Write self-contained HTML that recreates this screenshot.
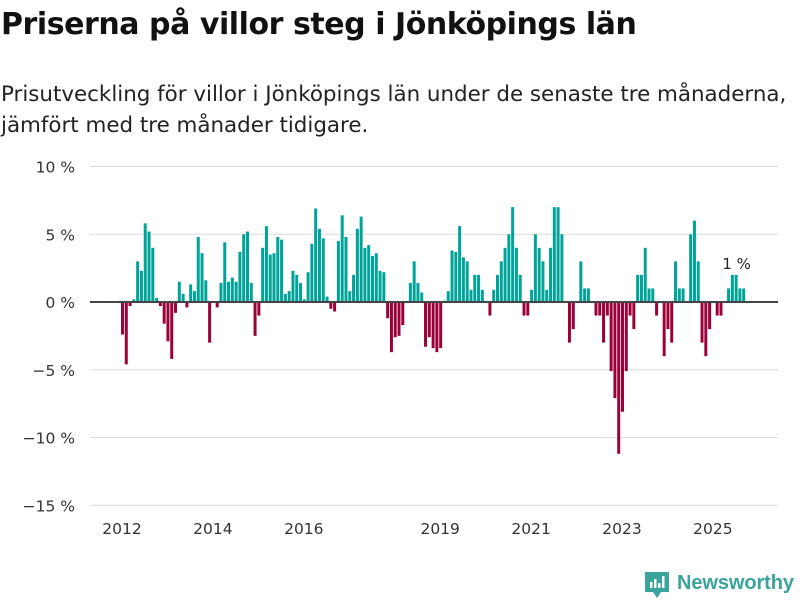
<!DOCTYPE html>
<html><head><meta charset="utf-8"><style>
body{margin:0;width:800px;height:600px;background:#fff;font-family:"DejaVu Sans","Liberation Sans",sans-serif;overflow:hidden;position:relative}
h1{position:absolute;left:1px;top:7px;margin:0;font-size:30px;font-weight:bold;color:#111;letter-spacing:-0.45px;white-space:nowrap}
p{position:absolute;left:1px;top:79px;margin:0;font-size:21.4px;line-height:31px;color:#222;white-space:nowrap}
svg{position:absolute;left:0;top:0}
</style></head><body>
<h1>Priserna på villor steg i Jönköpings län</h1>
<p>Prisutveckling för villor i Jönköpings län under de senaste tre månaderna,<br>jämfört med tre månader tidigare.</p>
<svg id="chart" width="800" height="600"></svg>
<script>
const values = [-2.4,-4.6,-0.3,0.2,3.0,2.3,5.8,5.2,4.0,0.3,-0.3,-1.6,-2.9,-4.2,-0.8,1.5,0.6,-0.4,1.3,0.8,4.8,3.6,1.6,-3.0,0,-0.4,1.4,4.4,1.5,1.8,1.5,3.7,5.0,5.2,1.4,-2.5,-1.0,4.0,5.6,3.5,
3.6,4.8,4.6,0.6,0.8,2.3,2.0,1.4,0.2,2.2,4.3,6.9,5.4,4.7,0.4,-0.5,-0.7,4.5,6.4,4.8,0.8,2.0,5.4,6.3,4.0,4.2,3.4,3.6,2.3,2.2,-1.2,-3.7,-2.6,-2.5,-1.7,0,1.4,3.0,1.4,0.7,-3.3,
-2.6,-3.4,-3.7,-3.4,0.1,0.8,3.8,3.7,5.6,3.3,3.0,0.9,2.0,2.0,0.9,0,-1.0,0.9,2.0,3.0,4.0,5.0,7.0,4.0,2.0,-1.0,-1.0,0.9,5.0,4.0,3.0,0.9,4.0,7.0,7.0,5.0,0,-3.0,-2.0,
0,3.0,1.0,1.0,0,-1.0,-1.0,-3.0,-1.0,-5.1,-7.1,-11.2,-8.1,-5.1,-1.0,-2.0,2.0,2.0,4.0,1.0,1.0,-1.0,0,-4.0,-2.0,-3.0,3.0,1.0,1.0,0,5.0,6.0,3.0,-3.0,-4.0,-2.0,0,-1.0,-1.0,0,1.0,2.0,2.0,1.0,1.0];
const yTicks = [10,5,0,-5,-10,-15];
const yTickLabels = ["10 %","5 %","0 %","−5 %","−10 %","−15 %"];
const xYears = [2012,2014,2016,2019,2021,2023,2025];
const lastLabel = "1 %";
const startYear = 2012;

const NS="http://www.w3.org/2000/svg";
const svg=document.getElementById('chart');
const x0=121, x1=746, step=(x1-x0)/values.length;
const y=v=>302-v*13.55;
const xi=i=>x0+i*step;
function mk(t,a){const e=document.createElementNS(NS,t);for(const k in a)e.setAttribute(k,a[k]);svg.appendChild(e);return e;}
yTicks.forEach((t,i)=>{
  if(t!==0){const g=mk('line',{x1:90,x2:778,y1:y(t),y2:y(t),stroke:'#dcdcdc','stroke-width':1});
  
  }
  const l=mk('text',{x:75,y:y(t)+6,'text-anchor':'end','font-size':15.5,fill:'#333'});
  l.textContent=yTickLabels[i];
  
  
});
values.forEach((v,i)=>{
  if(v===0)return;
  const top=Math.min(y(v),y(0)), h=Math.abs(y(v)-y(0));
  const r=mk('rect',{x:xi(i),y:top,width:step-0.8,height:h,fill:v>0?'#00a398':'#9b0039'});
  
  
});
const z=mk('line',{x1:90,x2:778,y1:y(0),y2:y(0),stroke:'#444','stroke-width':2});


xYears.forEach(yr=>{
  const t=mk('text',{x:xi((yr-startYear)*12)+1,y:534,'text-anchor':'middle','font-size':15.5,fill:'#333'});
  t.textContent=yr;
  
  
});
const li=values.length-3;
const lb=mk('text',{x:xi(li)+2,y:y(values[li])-6,'text-anchor':'middle','font-size':15,fill:'#222'});
lb.textContent=lastLabel;


</script>
<svg width="800" height="600" style="pointer-events:none">
<path d="M645 572 h24 v20 h-8 l-4 6 l-4-6 h-8z" fill="#3aa39a"/>
<rect x="650" y="582" width="2.5" height="6" fill="#fff"/><rect x="654" y="579" width="2.5" height="9" fill="#fff"/><rect x="658" y="583" width="2.5" height="5" fill="#fff"/><rect x="662" y="576" width="2.5" height="12" fill="#fff"/>
<text x="677" y="589" font-size="20" font-weight="bold" fill="#3aa39a" font-family="Liberation Sans, sans-serif" textLength="117">Newsworthy</text>
</svg>
</body></html>
